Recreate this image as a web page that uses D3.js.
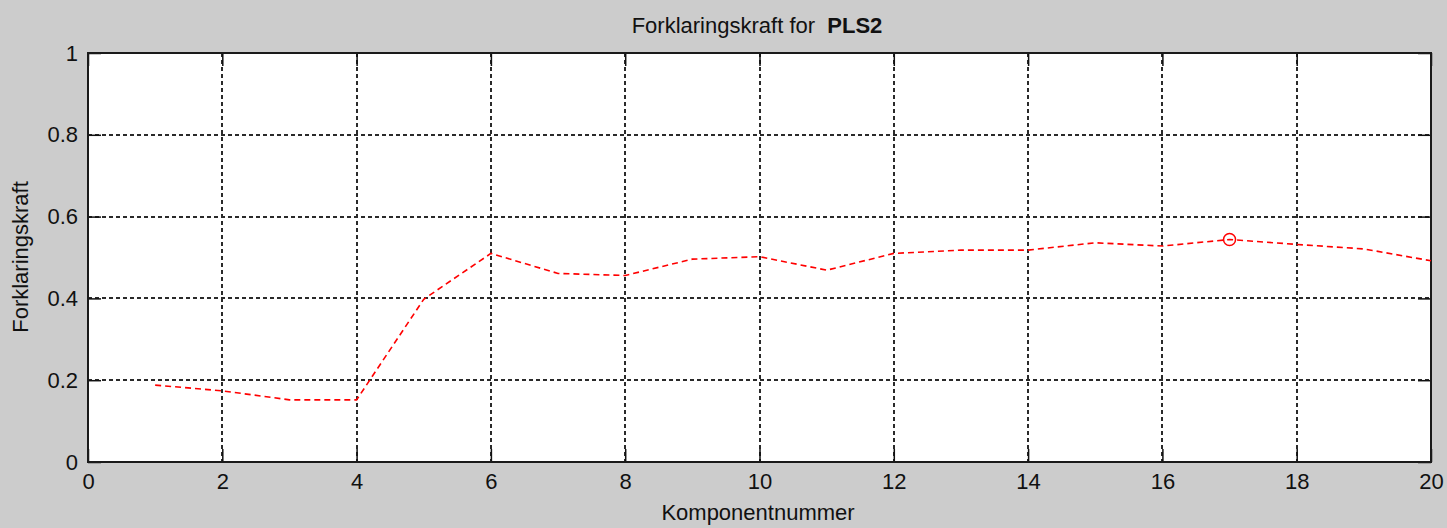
<!DOCTYPE html>
<html>
<head>
<meta charset="utf-8">
<script src="https://cdn.jsdelivr.net/npm/d3@7/dist/d3.min.js"></script>
<style>
  html, body { margin: 0; padding: 0; background: #cccccc; }
  svg { display: block; }
  text { font-family: "Liberation Sans", Arial, sans-serif; fill: #111; }
</style>
</head>
<body>
<svg id="chart" width="1447" height="528"></svg>
<script>
const components = [1,2,3,4,5,6,7,8,9,10,11,12,13,14,15,16,17,18,19,20];
const explained = [0.188,0.174,0.152,0.152,0.398,0.510,0.461,0.456,0.496,0.502,0.469,0.510,0.518,0.518,0.536,0.528,0.544,0.532,0.521,0.492];
const bestComponent = 17;
const xTicks = [0,2,4,6,8,10,12,14,16,18,20];
const yTicks = [0,0.2,0.4,0.6,0.8,1];
const titleText = "Forklaringskraft for";
const titleBold = "PLS2";
const xLabel = "Komponentnummer";
const yLabel = "Forklaringskraft";

const W = 1447, H = 528;
const m = {left: 88, right: 1431, top: 53, bottom: 462};
const svg = d3.select("#chart");
svg.append("rect").attr("width", W).attr("height", H).attr("fill", "#cccccc");

const x = d3.scaleLinear().domain([0, 20]).range([m.left, m.right]);
const y = d3.scaleLinear().domain([0, 1]).range([m.bottom, m.top]);

svg.append("rect").attr("x", m.left).attr("y", m.top)
  .attr("width", m.right - m.left).attr("height", m.bottom - m.top)
  .attr("fill", "#ffffff");

// grid
const grid = svg.append("g").attr("stroke", "#2a2a2a").attr("stroke-width", 1.3)
  .attr("stroke-dasharray", "4,3").attr("shape-rendering", "crispEdges");
xTicks.slice(1, -1).forEach(t => {
  grid.append("line").attr("x1", Math.round(x(t))).attr("x2", Math.round(x(t)))
    .attr("y1", m.top).attr("y2", m.bottom);
});
yTicks.slice(1, -1).forEach(t => {
  grid.append("line").attr("y1", Math.round(y(t))).attr("y2", Math.round(y(t)))
    .attr("x1", m.left).attr("x2", m.right);
});

// axes
const tl = 13;
const fs = "22px";
const xAxisB = d3.axisBottom(x).tickValues(xTicks).tickSizeInner(-tl).tickSizeOuter(0).tickPadding(11).tickFormat(d3.format("d"));
const xAxisT = d3.axisTop(x).tickValues(xTicks).tickSizeInner(-tl).tickSizeOuter(0).tickFormat("");
const yAxisL = d3.axisLeft(y).tickValues(yTicks).tickSizeInner(-tl).tickSizeOuter(0).tickPadding(10).tickFormat(d => d === 0 ? "0" : d === 1 ? "1" : d3.format(".1f")(d));
const yAxisR = d3.axisRight(y).tickValues(yTicks).tickSizeInner(-tl).tickSizeOuter(0).tickFormat("");

function styleAxis(g) {
  g.select(".domain").remove();
  g.selectAll(".tick line").attr("stroke", "#111").attr("stroke-width", 1.5);
  g.selectAll(".tick text").attr("font-size", fs).attr("fill", "#111")
    .attr("font-family", "Liberation Sans, Arial, sans-serif");
}
svg.append("g").attr("transform", `translate(0,${m.bottom})`).call(xAxisB).call(styleAxis);
svg.append("g").attr("transform", `translate(0,${m.top})`).call(xAxisT).call(styleAxis);
svg.append("g").attr("transform", `translate(${m.left},0)`).call(yAxisL).call(styleAxis);
svg.append("g").attr("transform", `translate(${m.right},0)`).call(yAxisR).call(styleAxis);

// box
svg.append("rect").attr("x", m.left).attr("y", m.top)
  .attr("width", m.right - m.left).attr("height", m.bottom - m.top)
  .attr("fill", "none").attr("stroke", "#1a1a1a").attr("stroke-width", 2);

// line
const line = d3.line().x((d, i) => x(components[i])).y(d => y(d));
svg.append("path").datum(explained).attr("d", line)
  .attr("fill", "none").attr("stroke", "#ff0000").attr("stroke-width", 1.6)
  .attr("stroke-dasharray", "6,4");

// marker
const bi = components.indexOf(bestComponent);
svg.append("circle").attr("cx", x(bestComponent)).attr("cy", y(explained[bi]))
  .attr("r", 6).attr("fill", "none").attr("stroke", "#ff0000").attr("stroke-width", 1.5);

// title
const title = svg.append("text").attr("x", 757).attr("y", 33).attr("text-anchor", "middle")
  .attr("font-size", fs);
title.append("tspan").text(titleText + "\u00a0\u00a0");
title.append("tspan").attr("font-weight", "bold").text(titleBold);

svg.append("text").attr("x", 758).attr("y", 520).attr("text-anchor", "middle")
  .attr("font-size", fs).text(xLabel);
svg.append("text").attr("transform", "translate(28,257) rotate(-90)")
  .attr("text-anchor", "middle").attr("font-size", fs).text(yLabel);
</script>
</body>
</html>
